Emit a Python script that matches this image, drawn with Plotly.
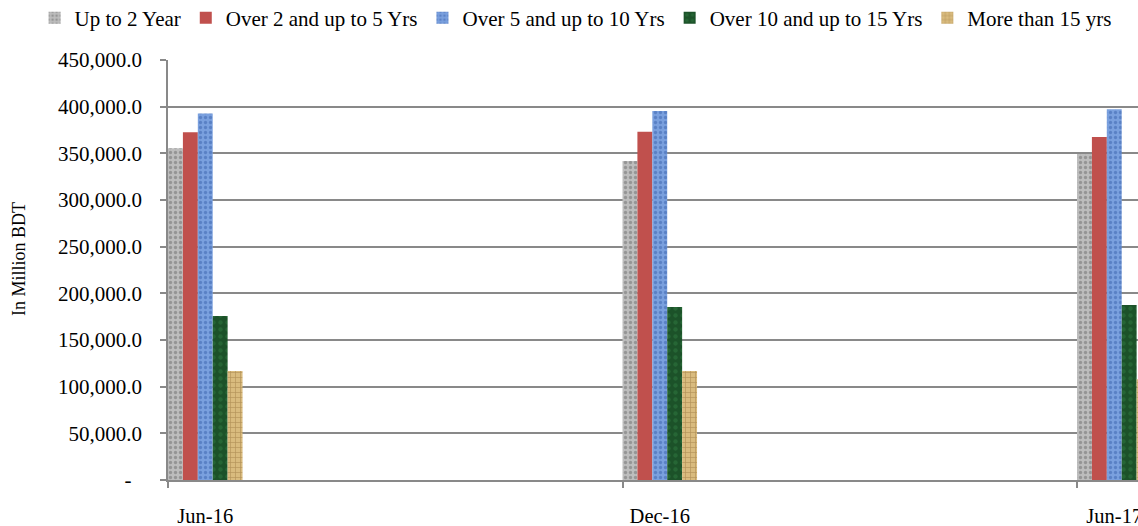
import plotly.graph_objects as go

# Reporting periods and outstanding amounts (in million BDT) by maturity bucket
periods = ["Jun-16", "Dec-16", "Jun-17"]
series_names = [
    "Up to 2 Year",
    "Over 2 and up to 5 Yrs",
    "Over 5 and up to 10 Yrs",
    "Over 10 and up to 15 Yrs",
    "More than 15 yrs",
]
up_to_2 = [355400, 341800, 349300]
over_2_to_5 = [372500, 373200, 367500]
over_5_to_10 = [392800, 395400, 397100]
over_10_to_15 = [175700, 185400, 187500]
over_15 = [116800, 116800, 107900]

y_tick_values = [0, 50000, 100000, 150000, 200000, 250000, 300000, 350000, 400000, 450000]
y_tick_labels = ["-\u00a0\u00a0", "50,000.0", "100,000.0", "150,000.0", "200,000.0",
                 "250,000.0", "300,000.0", "350,000.0", "400,000.0", "450,000.0"]

series_values = [up_to_2, over_2_to_5, over_5_to_10, over_10_to_15, over_15]

# fill styling per series: base colour, pattern shape, pattern colour
styles = [
    dict(color="#bdbdbd", shape=".", fg="#6e6e6e", size=5, sol=0.35),
    dict(color="#c0504d", shape="", fg="#c0504d", size=5, sol=0.3),
    dict(color="#7aa0de", shape=".", fg="#3a62ac", size=5, sol=0.35),
    dict(color="#1c5229", shape=".", fg="#2f7a42", size=7, sol=0.3),
    dict(color="#d9bb7e", shape="+", fg="#8e6c36", size=5, sol=0.25),
]

FONT = "Liberation Serif, Times New Roman, serif"
bar_w = 0.0328  # width of a single bar in category units
x_pos = list(range(len(periods)))

fig = go.Figure()
for i, (name, vals, st) in enumerate(zip(series_names, series_values, styles)):
    pattern = dict(shape=st["shape"], fgcolor=st["fg"], bgcolor=st["color"],
                   size=st["size"], solidity=st["sol"], fillmode="overlay")
    fig.add_trace(go.Bar(
        name=name,
        x=x_pos,
        y=vals,
        width=bar_w,
        offset=i * bar_w,
        marker=dict(color=st["color"], line=dict(width=0), pattern=pattern),
    ))

group_centers = [p + bar_w * len(series_names) / 2 for p in x_pos]

grid_col = "#898989"
fig.update_layout(
    width=1138,
    height=526,
    margin=dict(l=168, r=0, t=60, b=46, autoexpand=False),
    paper_bgcolor="white",
    plot_bgcolor="white",
    barmode="overlay",
    font=dict(family=FONT, size=20, color="black"),
    legend=dict(
        orientation="h",
        xref="paper", yref="paper",
        x=(34.6 - 168) / 970, y=1 + (60 - 18) / 420,
        xanchor="left", yanchor="middle",
        font=dict(family=FONT, size=21, color="black"),
        bgcolor="rgba(0,0,0,0)",
        traceorder="normal",
        itemclick=False,
    ),
    xaxis=dict(
        range=[0, 970 / 454.5],
        tickmode="array",
        tickvals=group_centers,
        ticktext=periods,
        ticks="",
        showgrid=False,
        showline=True,
        linecolor=grid_col,
        linewidth=1.5,
        zeroline=False,
        ticklabelstandoff=17,
        ticklabeloverflow="allow",
        tickfont=dict(family=FONT, size=20.5),
        minor=dict(tickmode="array", tickvals=x_pos, ticks="outside",
                   ticklen=6, tickwidth=1.5, tickcolor=grid_col, showgrid=False),
    ),
    yaxis=dict(
        range=[0, 450000],
        tickmode="array",
        tickvals=y_tick_values,
        ticktext=y_tick_labels,
        ticks="outside",
        ticklen=6,
        tickwidth=1.5,
        tickcolor=grid_col,
        showgrid=True,
        gridcolor=grid_col,
        gridwidth=1.5,
        showline=True,
        linecolor=grid_col,
        linewidth=1.5,
        zeroline=False,
        ticklabelstandoff=14,
        tickfont=dict(family=FONT, size=21),
    ),
    annotations=[dict(
        text="In Million BDT",
        xref="paper", yref="paper",
        x=(19 - 168) / 970, y=(480 - 259) / 420,
        xanchor="center", yanchor="middle",
        textangle=-90, showarrow=False,
        font=dict(family=FONT, size=18, color="black"),
    )],
)

fig.write_html("out.html")
